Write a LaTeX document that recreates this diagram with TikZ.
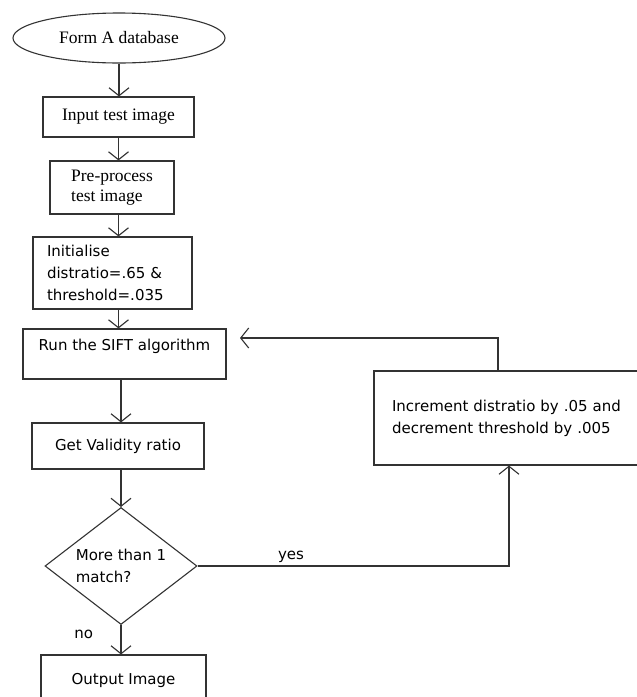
\documentclass[tikz,border=0pt]{standalone}
\usepackage{fontspec}
\setmainfont{Liberation Serif}
\newfontfamily\boxfont{DejaVu Sans}
\usetikzlibrary{shapes.geometric,arrows.meta}
\tikzset{
  serifbox/.style={rectangle, draw=black!80, line width=1.1pt, font=\fontsize{17.5}{20}\selectfont},
  sansbox/.style={rectangle, draw=black!80, line width=1.1pt, font=\boxfont\fontsize{15}{22}\selectfont},
  labeltext/.style={font=\boxfont\fontsize{15}{18}\selectfont},
  flow/.style={draw=black!80, line width=1.1pt, -{Straight Barb[length=8pt,width=20pt]}}
}
\begin{document}
\begin{tikzpicture}[x=1pt, y=-1pt]
\useasboundingbox (0,0) rectangle (637,697);
\fill[white] (0,0) rectangle (637,697);
% main column
\node[serifbox, ellipse, minimum width=212pt, minimum height=50pt] (db) at (119,38) {Form A database};
\node[serifbox, minimum width=151pt, minimum height=40pt] (input) at (118.5,117) {Input test image};
\node[serifbox, minimum width=124pt, minimum height=53pt, align=left] (pre) at (112,187.5) {Pre-process\\test image};
\node[sansbox, text width=131pt, inner xsep=14pt, minimum height=72pt, align=left] (init) at (112.5,273) {Initialise\\distratio=.65 \&\\threshold=.035};
\node[sansbox, minimum width=203pt, text height=15pt, text depth=23pt, inner ysep=6pt] (run) at (124.5,354) {Run the SIFT algorithm};
\node[sansbox, minimum width=172pt, minimum height=46pt] (valid) at (118,446) {Get Validity ratio};
\node[sansbox, diamond, aspect=1.3, inner sep=0pt, minimum width=152pt, minimum height=117pt, align=left] (dec) at (121,566) {More than 1\\match?};
\node[sansbox, minimum width=165pt, minimum height=50pt] (out) at (123.5,680) {Output Image};
% loop box
\node[sansbox, text width=270pt, inner xsep=18pt, minimum height=94pt, align=left] (inc) at (527,418) {Increment distratio by .05 and\\decrement threshold by .005};
\coordinate (back) at (240,338);
% connectors
\draw[flow] (db.south) -- (db.south |- input.north);
\draw[flow] (input.south) -- (input.south |- pre.north);
\draw[flow] (pre.south -| input.south) -- (init.north -| input.south);
\draw[flow] (init.south -| input.south) -- (run.north -| input.south);
\draw[flow] (run.south -| dec.north) -- (valid.north -| dec.north);
\draw[flow] (valid.south -| dec.north) -- (dec.north);
\draw[flow] (dec.south) -- node[pos=.33, left, xshift=-24pt, labeltext] {no} (dec.south |- out.north);
\draw[flow] (dec.east) -| node[pos=.15, above, labeltext] {yes} ([xshift=-18pt]inc.south);
\draw[flow] ([xshift=-29pt]inc.north) |- (back);
\end{tikzpicture}
\end{document}
